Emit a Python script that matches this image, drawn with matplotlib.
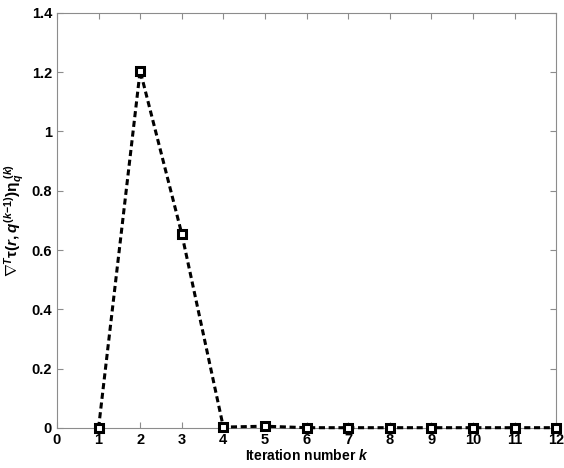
import numpy as np
import matplotlib.pyplot as plt

plt.rcParams['font.family'] = ['Liberation Sans', 'DejaVu Sans']
plt.rcParams['font.weight'] = 'bold'
plt.rcParams['mathtext.fontset'] = 'custom'
plt.rcParams['mathtext.rm'] = 'Liberation Sans:bold'
plt.rcParams['mathtext.it'] = 'Liberation Sans:bold:italic'
plt.rcParams['mathtext.bf'] = 'Liberation Sans:bold'

k = [1, 2, 3, 4, 5, 6, 7, 8, 9, 10, 11, 12]
vals = [0.0, 1.205, 0.655, 0.003, 0.006, 0.001, 0.001, 0.001, 0.001, 0.001, 0.001, 0.001]

fig = plt.figure(figsize=(5.64, 4.68), dpi=100)
ax = fig.add_axes([0.101, 0.0855, 0.885, 0.887])
ax.plot(k, vals, color='k', ls=(0, (2, 1.2)), lw=2.2, marker='s', ms=6,
        mfc='white', mec='k', mew=2.2, clip_on=False, zorder=5)
ax.set_xlim(0, 12)
ax.set_ylim(0, 1.4)
ax.set_xticks(range(0, 13))
ax.set_yticks(np.arange(0, 1.41, 0.2))
ax.set_yticklabels(['0', '0.2', '0.4', '0.6', '0.8', '1', '1.2', '1.4'])
for s in ax.spines.values():
    s.set_color('#8c8c8c')
    s.set_linewidth(0.8)
ax.tick_params(direction='in', labelsize=10.5, length=4, color='#8c8c8c',
               top=True, right=True)
ax.set_xlabel(r'Iteration number $k$', fontsize=10, fontweight='bold', labelpad=1)
ax.set_ylabel(r'$\nabla^{T}\mathrm{\tau}(r,q^{(k\!-\!1)})\mathrm{\eta}_q^{\ (k)}$', fontsize=11, labelpad=4)
fig.savefig('out.png', dpi=100)
